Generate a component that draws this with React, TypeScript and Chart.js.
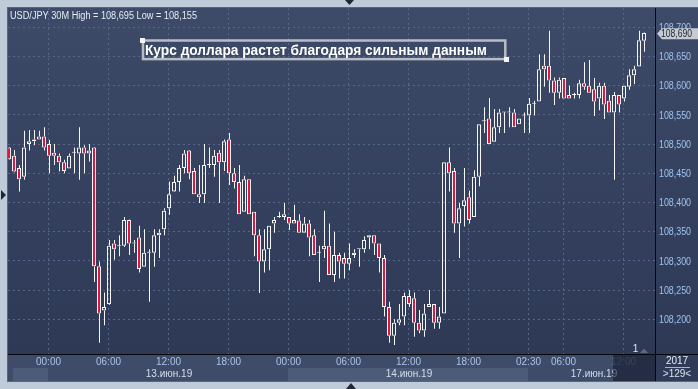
import React, { useEffect, useRef } from "react";
import { Chart, registerables } from "chart.js";
Chart.register(...registerables);

// ---- data (USD/JPY 30M candles, prices) ----
const OPEN = [
  108.494, 108.480, 108.459, 108.444, 108.500, 108.505, 108.513, 108.513, 108.500, 108.485,
  108.480, 108.469, 108.458, 108.485, 108.484, 108.494, 108.484, 108.494, 108.291, 108.215,
  108.226, 108.330, 108.326, 108.326, 108.370, 108.330, 108.340, 108.290, 108.314, 108.314,
  108.344, 108.354, 108.390, 108.419, 108.435, 108.459, 108.489, 108.454, 108.414, 108.414,
  108.464, 108.464, 108.485, 108.469, 108.508, 108.450, 108.435, 108.384, 108.440, 108.384,
  108.344, 108.299, 108.320, 108.364, 108.375, 108.380, 108.375, 108.370, 108.369, 108.348,
  108.364, 108.344, 108.314, 108.320, 108.326, 108.276, 108.310, 108.305, 108.295, 108.310,
  108.320, 108.320, 108.340, 108.344, 108.330, 108.305, 108.221, 108.172, 108.194, 108.205,
  108.240, 108.236, 108.194, 108.181, 108.221, 108.226, 108.194, 108.210, 108.469, 108.454,
  108.364, 108.394, 108.409, 108.375, 108.444, 108.539, 108.544, 108.504, 108.529, 108.554,
  108.554, 108.554, 108.534, 108.549, 108.549, 108.569, 108.573, 108.634, 108.634, 108.609,
  108.588, 108.613, 108.584, 108.584, 108.584, 108.604, 108.600, 108.594, 108.578, 108.600,
  108.574, 108.554, 108.584, 108.578, 108.598, 108.618, 108.633, 108.677,
];
const HIGH = [
  108.495, 108.490, 108.464, 108.523, 108.524, 108.524, 108.523, 108.529, 108.507, 108.500,
  108.484, 108.473, 108.484, 108.494, 108.529, 108.498, 108.500, 108.495, 108.299, 108.246,
  108.336, 108.336, 108.344, 108.375, 108.371, 108.336, 108.360, 108.354, 108.320, 108.354,
  108.354, 108.390, 108.436, 108.446, 108.464, 108.490, 108.490, 108.459, 108.464, 108.500,
  108.494, 108.490, 108.490, 108.508, 108.519, 108.459, 108.464, 108.446, 108.440, 108.384,
  108.354, 108.354, 108.360, 108.375, 108.384, 108.399, 108.375, 108.396, 108.380, 108.375,
  108.370, 108.354, 108.326, 108.386, 108.364, 108.350, 108.314, 108.314, 108.330, 108.320,
  108.320, 108.342, 108.344, 108.344, 108.330, 108.310, 108.230, 108.200, 108.226, 108.246,
  108.250, 108.246, 108.216, 108.226, 108.250, 108.226, 108.221, 108.469, 108.494, 108.459,
  108.399, 108.459, 108.420, 108.455, 108.534, 108.563, 108.579, 108.560, 108.560, 108.555,
  108.563, 108.560, 108.544, 108.554, 108.579, 108.574, 108.654, 108.654, 108.694, 108.614,
  108.614, 108.613, 108.600, 108.588, 108.610, 108.640, 108.644, 108.613, 108.605, 108.605,
  108.584, 108.589, 108.584, 108.600, 108.628, 108.634, 108.694, 108.691,
];
const LOW = [
  108.473, 108.452, 108.419, 108.439, 108.489, 108.498, 108.508, 108.489, 108.450, 108.464,
  108.453, 108.450, 108.458, 108.450, 108.439, 108.450, 108.470, 108.264, 108.160, 108.190,
  108.225, 108.302, 108.308, 108.324, 108.310, 108.314, 108.280, 108.290, 108.230, 108.290,
  108.305, 108.344, 108.379, 108.418, 108.419, 108.450, 108.440, 108.414, 108.399, 108.399,
  108.459, 108.444, 108.399, 108.454, 108.430, 108.424, 108.380, 108.384, 108.380, 108.308,
  108.245, 108.280, 108.284, 108.348, 108.374, 108.370, 108.353, 108.364, 108.348, 108.348,
  108.308, 108.310, 108.264, 108.305, 108.276, 108.264, 108.270, 108.270, 108.284, 108.305,
  108.290, 108.314, 108.320, 108.310, 108.280, 108.205, 108.160, 108.156, 108.190, 108.190,
  108.221, 108.170, 108.176, 108.170, 108.221, 108.184, 108.184, 108.210, 108.419, 108.348,
  108.305, 108.359, 108.364, 108.375, 108.428, 108.519, 108.500, 108.504, 108.519, 108.519,
  108.529, 108.529, 108.534, 108.519, 108.519, 108.549, 108.573, 108.598, 108.588, 108.567,
  108.578, 108.578, 108.578, 108.578, 108.578, 108.593, 108.588, 108.548, 108.558, 108.543,
  108.554, 108.439, 108.554, 108.573, 108.593, 108.603, 108.633, 108.658,
];
const CLOSE = [
  108.474, 108.453, 108.440, 108.494, 108.505, 108.508, 108.508, 108.494, 108.480, 108.480,
  108.469, 108.454, 108.480, 108.485, 108.494, 108.484, 108.489, 108.291, 108.210, 108.221,
  108.326, 108.320, 108.325, 108.370, 108.330, 108.331, 108.286, 108.314, 108.315, 108.344,
  108.348, 108.386, 108.414, 108.435, 108.459, 108.484, 108.450, 108.414, 108.409, 108.464,
  108.464, 108.480, 108.469, 108.505, 108.450, 108.435, 108.380, 108.440, 108.380, 108.344,
  108.299, 108.320, 108.360, 108.370, 108.375, 108.375, 108.364, 108.364, 108.348, 108.364,
  108.340, 108.310, 108.314, 108.326, 108.276, 108.310, 108.299, 108.295, 108.305, 108.314,
  108.320, 108.336, 108.344, 108.330, 108.305, 108.221, 108.172, 108.194, 108.200, 108.240,
  108.226, 108.194, 108.181, 108.210, 108.226, 108.194, 108.205, 108.469, 108.450, 108.364,
  108.390, 108.404, 108.370, 108.444, 108.534, 108.540, 108.500, 108.529, 108.554, 108.554,
  108.555, 108.529, 108.544, 108.549, 108.569, 108.569, 108.628, 108.628, 108.609, 108.588,
  108.610, 108.578, 108.578, 108.584, 108.604, 108.598, 108.588, 108.573, 108.600, 108.568,
  108.554, 108.584, 108.568, 108.600, 108.618, 108.628, 108.678, 108.690,
];

const VISIBLE_BARS = 129;
const PRICE_TICKS = [108.2, 108.25, 108.3, 108.35, 108.4, 108.45, 108.5, 108.55, 108.6, 108.65, 108.7];
const PRICE_TICK_LABELS = ["108,200", "108,250", "108,300", "108,350", "108,400", "108,450", "108,500", "108,550", "108,600", "108,650", "108,700"];
const TIME_TICK_INDEX = [8, 20, 32, 44, 56, 68, 80, 92, 104, 111, 123];
const TIME_TICK_LABELS = ["00:00", "06:00", "12:00", "18:00", "00:00", "06:00", "12:00", "18:00", "02:30", "06:00", "12:00"];
const DATE_TICK_INDEX = [32, 80, 117];
const DATE_TICK_LABELS = ["13.июн.19", "14.июн.19", "17.июн.19"];
const DAY_START_INDEX = [8, 56, 104];
const TITLE = "USD/JPY 30M High = 108,695 Low = 108,155";
const NOTE = "Курс доллара растет благодаря сильным данным";
const LAST_PRICE_LABEL = "108,690";
const Y_MIN = 108.1406;
const Y_MAX = 108.7313;

// ---- styles ----
const RED = "#e0143c";
const WHITE = "#f6f6f6";
const FRAME = "#c0cbd9";
const GRID = "#56668a";
const FONT = '"Liberation Sans", Arial, sans-serif';

const decor = {
  id: "decor",
  beforeDraw(chart: any) {
    const ctx = chart.ctx as CanvasRenderingContext2D;
    const xs = chart.scales.x;
    const ys = chart.scales.y;
    ctx.save();
    ctx.fillStyle = FRAME;
    ctx.fillRect(0, 0, 698, 389);
    const g = ctx.createLinearGradient(0, 8, 0, 354);
    g.addColorStop(0, "#3d4a68");
    g.addColorStop(1, "#2d3955");
    ctx.fillStyle = g;
    ctx.fillRect(8, 8, 690, 346);
    ctx.fillStyle = "#3e4c69";
    ctx.fillRect(8, 354, 647, 27);
    ctx.fillStyle = "#2f3b57";
    ctx.fillRect(655, 354, 43, 27);
    // date bands
    const dayPx = DAY_START_INDEX.map((i) => Math.round(xs.getPixelForValue(i)) - 1);
    ctx.fillStyle = "#4c5b78";
    ctx.fillRect(13, 368, dayPx[0] - 13, 13);
    ctx.fillRect(dayPx[1], 368, dayPx[2] - dayPx[1], 13);
    // grid
    ctx.strokeStyle = GRID;
    ctx.lineWidth = 1;
    ctx.setLineDash([2, 3]);
    for (const v of PRICE_TICKS) {
      const y = Math.floor(ys.getPixelForValue(v)) + 0.5;
      ctx.beginPath();
      ctx.moveTo(8, y);
      ctx.lineTo(655, y);
      ctx.stroke();
    }
    for (const i of TIME_TICK_INDEX) {
      const x = Math.round(xs.getPixelForValue(i)) - 0.5;
      ctx.beginPath();
      ctx.moveTo(x, 8);
      ctx.lineTo(x, 354);
      ctx.stroke();
    }
    ctx.restore();
  },
  afterDraw(chart: any) {
    const ctx = chart.ctx as CanvasRenderingContext2D;
    const xs = chart.scales.x;
    const ys = chart.scales.y;
    ctx.save();
    // left / top / bottom frame over the plot edges
    ctx.fillStyle = FRAME;
    ctx.fillRect(0, 0, 8, 389);
    ctx.fillRect(0, 0, 698, 8);
    ctx.fillRect(0, 381, 698, 8);
    ctx.fillStyle = "#5a6680";
    ctx.fillRect(7, 7, 1, 375);
    ctx.fillRect(7, 7, 691, 1);
    ctx.fillRect(7, 381, 691, 1);
    // frame arrows
    ctx.fillStyle = "#1f2736";
    ctx.beginPath();
    ctx.moveTo(345, 0); ctx.lineTo(354, 0); ctx.lineTo(349.5, 5); ctx.closePath(); ctx.fill();
    ctx.beginPath();
    ctx.moveTo(346, 389); ctx.lineTo(356, 389); ctx.lineTo(351, 383); ctx.closePath(); ctx.fill();
    ctx.beginPath();
    ctx.moveTo(1, 190); ctx.lineTo(6, 195); ctx.lineTo(1, 200); ctx.closePath(); ctx.fill();

    // y labels
    ctx.font = "10px " + FONT;
    ctx.textBaseline = "middle";
    ctx.textAlign = "left";
    ctx.fillStyle = "#9fc2ee";
    PRICE_TICKS.forEach((v, k) => {
      ctx.fillText(PRICE_TICK_LABELS[k], 659, ys.getPixelForValue(v) + 1, 32);
    });
    // last price tag
    const ty = ys.getPixelForValue(CLOSE[CLOSE.length - 1]) + 0.7;
    ctx.fillStyle = "#c6cbd3";
    ctx.beginPath();
    ctx.moveTo(657, ty);
    ctx.lineTo(662, ty - 5.5);
    ctx.lineTo(698, ty - 5.5);
    ctx.lineTo(698, ty + 5.5);
    ctx.lineTo(662, ty + 5.5);
    ctx.closePath();
    ctx.fill();
    ctx.fillStyle = "#1c2535";
    ctx.fillText(LAST_PRICE_LABEL, 661, ty + 0.5, 31);

    // x labels
    ctx.textAlign = "center";
    TIME_TICK_INDEX.forEach((i, k) => {
      const x = Math.round(xs.getPixelForValue(i)) - 0.5;
      ctx.fillStyle = k === TIME_TICK_INDEX.length - 1 ? "#6b7a96" : "#a9c4e6";
      ctx.fillText(TIME_TICK_LABELS[k], x, 362);
    });
    ctx.fillStyle = "#d3deee";
    DATE_TICK_INDEX.forEach((i, k) => {
      ctx.fillText(DATE_TICK_LABELS[k], xs.getPixelForValue(i), 374.5);
    });
    // dark scroll overlay
    ctx.fillStyle = "rgba(14,20,36,0.55)";
    ctx.fillRect(613, 355, 42, 26);
    // marker "1"
    ctx.fillStyle = "#e2e8f0";
    ctx.fillText("1", 635.5, 349.5);
    ctx.fillStyle = "#5a6a86";
    ctx.beginPath();
    ctx.moveTo(640, 353); ctx.lineTo(648, 353); ctx.lineTo(644, 348.5); ctx.closePath(); ctx.fill();

    // separator lines
    ctx.fillStyle = "#05070b";
    ctx.fillRect(655, 8, 1, 373);
    ctx.fillRect(8, 354, 690, 1);

    // corner panel
    ctx.fillStyle = "#e6edf6";
    ctx.fillText("2017", 677, 361.5);
    ctx.fillStyle = "#aab6c8";
    ctx.fillRect(665, 367, 25, 1);
    ctx.fillStyle = "#d8e2f0";
    ctx.fillText(">129<", 677, 374.5);

    // title
    ctx.textAlign = "left";
    ctx.textBaseline = "alphabetic";
    ctx.fillStyle = "#e6ecf4";
    ctx.fillText(TITLE, 10, 18.5, 187);

    // annotation box
    ctx.strokeStyle = "#b8bcc4";
    ctx.lineWidth = 2.5;
    ctx.strokeRect(143, 40.5, 362.3, 18.6);
    ctx.fillStyle = "#f4f4f4";
    ctx.fillRect(140, 38, 5, 5);
    ctx.fillRect(504, 57, 5, 5);
    ctx.fillStyle = "#ffffff";
    ctx.font = "bold 14px " + FONT;
    ctx.fillText(NOTE, 145, 55, 342);
    ctx.restore();
  },
};

export default function App() {
  const ref = useRef<HTMLCanvasElement>(null);
  useEffect(() => {
    const canvas = ref.current!;
    const idx = OPEN.map((_, i) => i);
    const bodyData = idx.map((i) => ({ x: i, y: [OPEN[i], CLOSE[i]] }));
    const upperData = idx.map((i) => ({ x: i, y: [Math.max(OPEN[i], CLOSE[i]), HIGH[i]] }));
    const lowerData = idx.map((i) => ({ x: i, y: [LOW[i], Math.min(OPEN[i], CLOSE[i])] }));
    const bodyColors = idx.map((i) => (CLOSE[i] < OPEN[i] ? RED : "rgba(0,0,0,0)"));
    const wick = {
      xAxisID: "x2",
      yAxisID: "y",
      backgroundColor: WHITE,
      borderWidth: 0,
      barThickness: 1,
      grouped: false,
      inflateAmount: 0,
    };
    const chart = new Chart(canvas, {
      type: "bar",
      data: {
        datasets: [
          { ...wick, data: upperData } as any,
          { ...wick, data: lowerData } as any,
          {
            data: bodyData,
            xAxisID: "x",
            yAxisID: "y",
            backgroundColor: bodyColors,
            borderColor: WHITE,
            borderWidth: 1,
            borderSkipped: false,
            minBarLength: 1,
            barThickness: 4,
            grouped: false,
            inflateAmount: 0,
          } as any,
        ],
      },
      options: {
        responsive: false,
        animation: false,
        devicePixelRatio: 1,
        events: [],
        layout: { padding: { left: 6, right: 47, top: 9, bottom: 35 } },
        plugins: { legend: { display: false }, tooltip: { enabled: false } },
        scales: {
          x: { type: "linear", display: false, offset: false, min: -0.6, max: VISIBLE_BARS - 0.6, bounds: "data" },
          x2: { type: "linear", axis: "x", display: false, offset: false, min: -0.7, max: VISIBLE_BARS - 0.7, bounds: "data" },
          y: { type: "linear", display: false, offset: false, min: Y_MIN, max: Y_MAX, bounds: "data", beginAtZero: false },
        },
      } as any,
      plugins: [decor],
    });
    return () => chart.destroy();
  }, []);
  return (
    <div style={{ position: "fixed", left: 0, top: 0, width: 698, height: 389 }}>
      <canvas ref={ref} width={698} height={389} style={{ display: "block", width: 698, height: 389 }} />
    </div>
  );
}
